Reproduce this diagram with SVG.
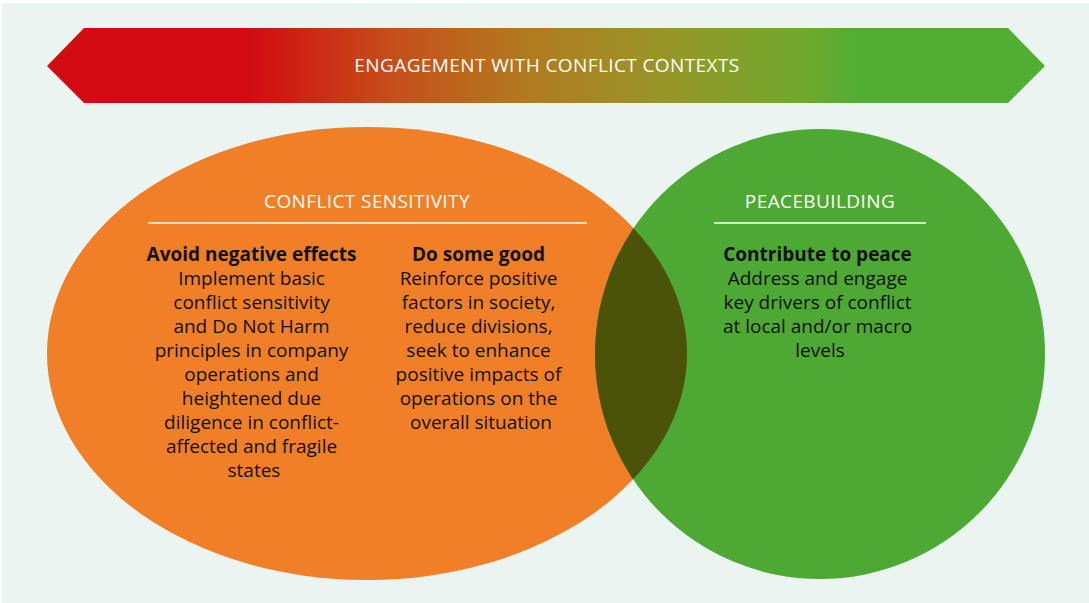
<svg xmlns="http://www.w3.org/2000/svg" width="1089" height="603" viewBox="0 0 1089 603">
  <style>
    .hdr { font-family: "Open Sans", "Noto Sans", sans-serif; font-size: 19px; font-weight: 500; letter-spacing: 0.4px; fill: #ffffff; text-anchor: middle; }
    .body { font-family: "Open Sans", "Noto Sans", sans-serif; font-size: 19px; fill: #111111; text-anchor: middle; }
    .bold { font-weight: 700; }
    .rule { stroke: #ffffff; stroke-width: 1.5; }
  </style>
  <defs>
    <linearGradient id="band" gradientUnits="userSpaceOnUse" x1="47" y1="0" x2="1045" y2="0">
      <stop offset="0" stop-color="#D20A11"/>
      <stop offset="0.2" stop-color="#D20A11"/>
      <stop offset="0.35" stop-color="#C5501A"/>
      <stop offset="0.48" stop-color="#B27A1F"/>
      <stop offset="0.62" stop-color="#979628"/>
      <stop offset="0.76" stop-color="#6FA92E"/>
      <stop offset="0.81" stop-color="#52AE32"/>
      <stop offset="1" stop-color="#52AE32"/>
    </linearGradient>
    <clipPath id="orangeClip">
      <ellipse cx="367" cy="353.5" rx="320" ry="226.5"/>
    </clipPath>
  </defs>
  <rect x="0" y="0" width="1089" height="603" fill="#ffffff"/>
  <rect x="2" y="3" width="1087" height="600" fill="#EAF4F1"/>

  <g id="banner">
    <polygon points="47,66 84,28 1008,28 1045,66 1008,103 84,103" fill="url(#band)"/>
    <text class="hdr" x="547" y="72">ENGAGEMENT WITH CONFLICT CONTEXTS</text>
  </g>

  <g id="conflict-sensitivity">
    <ellipse cx="367" cy="353.5" rx="320" ry="226.5" fill="#F07F28"/>
  </g>
  <g id="peacebuilding">
    <circle cx="820" cy="354" r="225" fill="#4EA834"/>
  </g>
  <g id="overlap">
    <circle cx="820" cy="354" r="225" fill="#4B5309" clip-path="url(#orangeClip)"/>
  </g>

  <g id="conflict-sensitivity-text">
    <text class="hdr" x="367" y="208">CONFLICT SENSITIVITY</text>
    <line class="rule" x1="148" y1="223" x2="587" y2="223"/>
    <text class="body" x="254">
      <tspan class="bold" x="254" y="261">Avoid negative effects</tspan>
      <tspan x="254" y="285">Implement basic</tspan>
      <tspan x="254" y="309">conflict sensitivity</tspan>
      <tspan x="254" y="333">and Do Not Harm</tspan>
      <tspan x="254" y="357">principles in company</tspan>
      <tspan x="254" y="381">operations and</tspan>
      <tspan x="254" y="405">heightened due</tspan>
      <tspan x="254" y="429">diligence in conflict-</tspan>
      <tspan x="254" y="453">affected and fragile</tspan>
      <tspan x="254" y="477">states</tspan>
    </text>
    <text class="body" x="481">
      <tspan class="bold" x="481" y="261">Do some good</tspan>
      <tspan x="481" y="285">Reinforce positive</tspan>
      <tspan x="481" y="309">factors in society,</tspan>
      <tspan x="481" y="333">reduce divisions,</tspan>
      <tspan x="481" y="357">seek to enhance</tspan>
      <tspan x="481" y="381">positive impacts of</tspan>
      <tspan x="481" y="405">operations on the</tspan>
      <tspan x="481" y="429">overall situation</tspan>
    </text>
  </g>

  <g id="peacebuilding-text">
    <text class="hdr" x="820" y="208">PEACEBUILDING</text>
    <line class="rule" x1="714" y1="223" x2="926" y2="223"/>
    <text class="body" x="820">
      <tspan class="bold" x="820" y="261">Contribute to peace</tspan>
      <tspan x="820" y="285">Address and engage</tspan>
      <tspan x="820" y="309">key drivers of conflict</tspan>
      <tspan x="820" y="333">at local and/or macro</tspan>
      <tspan x="820" y="357">levels</tspan>
    </text>
  </g>
</svg>
